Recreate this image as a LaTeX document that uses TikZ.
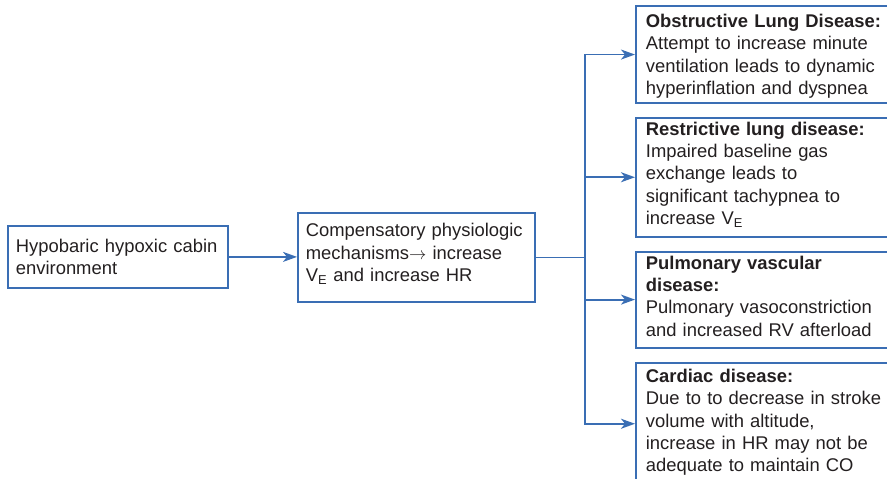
\documentclass[tikz,border=0pt]{standalone}
\usepackage{fontspec}
\setmainfont{Liberation Sans}
\usetikzlibrary{arrows.meta}

\definecolor{flowblue}{RGB}{58,110,180}
\definecolor{inkgray}{RGB}{35,31,32}

\begin{document}
\begin{tikzpicture}[x=1pt, y=-1pt,
    box/.style={draw=flowblue, line width=1.8pt, anchor=north west, align=left,
        inner ysep=0pt, inner xsep=10pt, text=inkgray,
        font=\fontsize{18.4}{22.3}\selectfont},
    wire/.style={draw=flowblue, line width=1.8pt},
    link/.style={wire, -{Stealth[length=14pt, width=10pt, inset=4pt]}}]
    \useasboundingbox (0, 0) rectangle (887, 479);
    \clip (0, 0) rectangle (887, 479);

    \node[box, inner xsep=8pt, text width=204pt, text height=26.7pt, text depth=35.3pt]
        (cabin) at (7, 225) {Hypobaric hypoxic cabin\\environment};
    \node[box, inner xsep=8pt, text width=221pt, text height=23.7pt, text depth=64.7pt]
        (mech) at (297, 212.3) {Compensatory physiologic\\mechanisms$\rightarrow$ increase\\V\textsubscript{E} and increase HR};

    \node[box, text width=250pt, text height=21.7pt, text depth=75.6pt]
        (obs) at (635, 5) {\textbf{Obstructive Lung Disease:}\\Attempt to increase minute\\ventilation leads to dynamic\\hyperinflation and dyspnea};
    \node[box, text width=250pt, text height=17.6pt, text depth=101.7pt]
        (restr) at (635, 116.7) {\textbf{Restrictive lung disease:}\\Impaired baseline gas\\exchange leads to\\significant tachypnea to\\increase V\textsubscript{E}};
    \node[box, text width=250pt, text height=17.6pt, text depth=78.4pt]
        (pulm) at (635, 250.7) {\textbf{Pulmonary vascular}\\\textbf{disease:}\\Pulmonary vasoconstriction\\and increased RV afterload};
    \node[box, text width=250pt, text height=20pt, text depth=102.3pt]
        (card) at (635, 361.7) {\textbf{Cardiac disease:}\\Due to to decrease in stroke\\volume with altitude,\\increase in HR may not be\\adequate to maintain CO};

    \draw[link] (cabin.east) -- (cabin.east -| mech.west);
    \path (mech.east) -- ++(49, 0) coordinate (fork);
    \draw[wire] (mech.east) -- (fork);
    \foreach \b in {obs, restr, pulm, card}
        \draw[link] (fork) |- (\b.west);
\end{tikzpicture}
\end{document}
